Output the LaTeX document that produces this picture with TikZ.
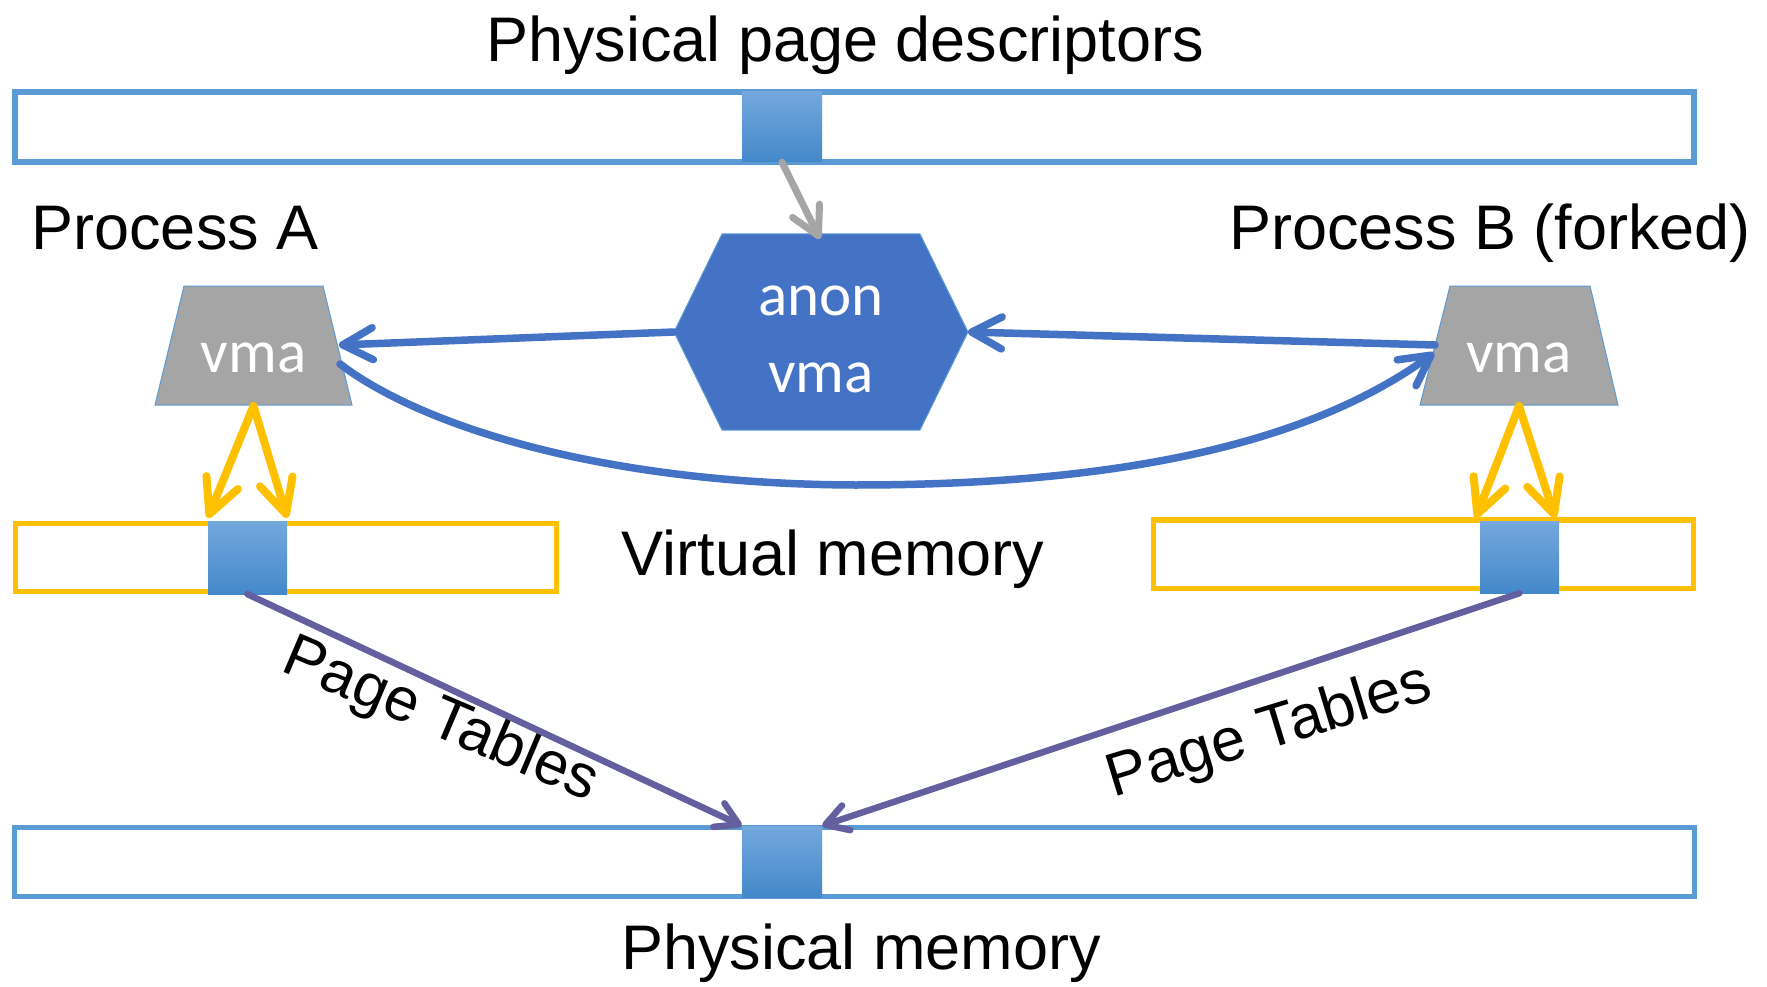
\documentclass[tikz,border=0pt]{standalone}
\usepackage{fontspec}
\setmainfont{Liberation Sans}
\newfontfamily\calfont{Carlito}
\usetikzlibrary{arrows.meta}
\definecolor{barblue}{HTML}{5B9BD5}
\definecolor{hexblue}{HTML}{4472C4}
\definecolor{vmagray}{HTML}{A5A5A5}
\definecolor{ygold}{HTML}{FFC000}
\definecolor{ptpurple}{RGB}{100,96,160}
\definecolor{sqtop}{RGB}{116,168,222}
\definecolor{sqbot}{RGB}{68,136,202}
\begin{document}
\begin{tikzpicture}[x=1pt,y=-1pt,
  lbl/.style={font=\fontsize{63}{75}\selectfont, inner sep=0pt, anchor=base},
  ptlbl/.style={font=\fontsize{61}{73}\selectfont, inner sep=0pt, anchor=base},
  wlbl/.style={font=\calfont\fontsize{61}{73}\selectfont, text=white, inner sep=0pt, anchor=base},
  barbox/.style={draw=barblue, line width=5.5pt, fill=white, inner sep=0pt},
  ybox/.style={draw=ygold, line width=5.5pt, fill=white, inner sep=0pt},
  pagesq/.style={top color=sqtop, bottom color=sqbot, draw=none, inner sep=0pt},
  shapefill/.style={draw=barblue, line width=1pt},
  bluearrow/.style={draw=hexblue, line width=7.5pt, line cap=round, -{Straight Barb[length=30pt,width=32pt,round]}},
  grayarrow/.style={draw=vmagray, line width=7pt, line cap=round, -{Straight Barb[length=28pt,width=30pt,round]}},
  yarrow/.style={draw=ygold, line width=8pt, line cap=round, -{Straight Barb[length=34pt,width=34pt,round]}},
  parrow/.style={draw=ptpurple, line width=6.5pt, line cap=round, -{Straight Barb[length=22pt,width=26pt,round]}}
]
\useasboundingbox (0,0) rectangle (1767,987);

% bars
\node[barbox, minimum width=1679pt, minimum height=70pt] (pdesc) at (854.5,127) {};
\node[barbox, minimum width=1680pt, minimum height=69pt] (pmem) at (854.5,862) {};
\node[ybox, minimum width=541pt, minimum height=68pt] (vmA) at (286,557.5) {};
\node[ybox, minimum width=540pt, minimum height=68.5pt] (vmB) at (1423.5,554.25) {};

% page squares
\node[pagesq, minimum width=80pt, minimum height=70pt] (tsq) at (782,127) {};
\node[pagesq, minimum width=80pt, minimum height=71pt] (psq) at (782,861.5) {};
\node[pagesq, minimum width=79pt, minimum height=73pt] (lsq) at (247.5,557.5) {};
\node[pagesq, minimum width=79pt, minimum height=72pt] (rsq) at (1519.5,557) {};

% anon vma hexagon
\coordinate (hexL) at (674,332);
\coordinate (hexR) at (968,332);
\coordinate (hexTop) at (820,239);
\path[fill=hexblue, shapefill] (hexL) -- (722,234) -- (920,234) -- (hexR) -- (920,430) -- (722,430) -- cycle;
\node[wlbl] (anon1) at (821,315) {anon};
\node[wlbl] (anon2) at (821,392) {vma};

% vma trapezoids
\path[fill=vmagray, shapefill] (184,286) -- (323,286) -- (352,405) -- (155,405) -- cycle;
\path[fill=vmagray, shapefill] (1450,286) -- (1590,286) -- (1618,405) -- (1420,405) -- cycle;
\node[wlbl] (vmaA) at (253.5,372) {vma};
\node[wlbl] (vmaB) at (1519,372) {vma};
\coordinate (aBot) at (253.5,406);
\coordinate (bBot) at (1519,406);
\coordinate (aR) at (339,345);
\coordinate (aR2) at (340,364);
\coordinate (bL) at (1435,345);
\coordinate (bL2) at (1434,353);

% labels
\node[lbl] (tPPD) at (845,62) {Physical page descriptors};
\node[lbl] (tA) at (175,250) {Process A};
\node[lbl] (tB) at (1490,250) {Process B (forked)};
\node[lbl] (tVM) at (833,575) {Virtual memory};
\node[lbl] (tPM) at (861,969) {Physical memory};
\node[ptlbl, rotate=-23] (ptA) at (434,736) {Page Tables};
\node[ptlbl, rotate=17] (ptB) at (1274,748) {Page Tables};

% connectors
\draw[grayarrow] (tsq.south) -- (hexTop);
\draw[bluearrow] (hexL) -- (aR);
\draw[bluearrow] (bL) -- (hexR);
\draw[bluearrow] (aR2) .. controls (420,425) and (600,484) .. (855,485)
  .. controls (1100,485) and (1300,450) .. (bL2);
\draw[yarrow] (aBot) -- ([yshift=3pt]lsq.north west);
\draw[yarrow] (aBot) -- ([yshift=3pt]lsq.north east);
\draw[yarrow] (bBot) -- ([xshift=-4pt,yshift=3pt]rsq.north west);
\draw[yarrow] (bBot) -- ([xshift=-4pt,yshift=3pt]rsq.north east);
\draw[parrow] (lsq.south) -- (psq.north west);
\draw[parrow] (rsq.south) -- (psq.north east);
\end{tikzpicture}
\end{document}
